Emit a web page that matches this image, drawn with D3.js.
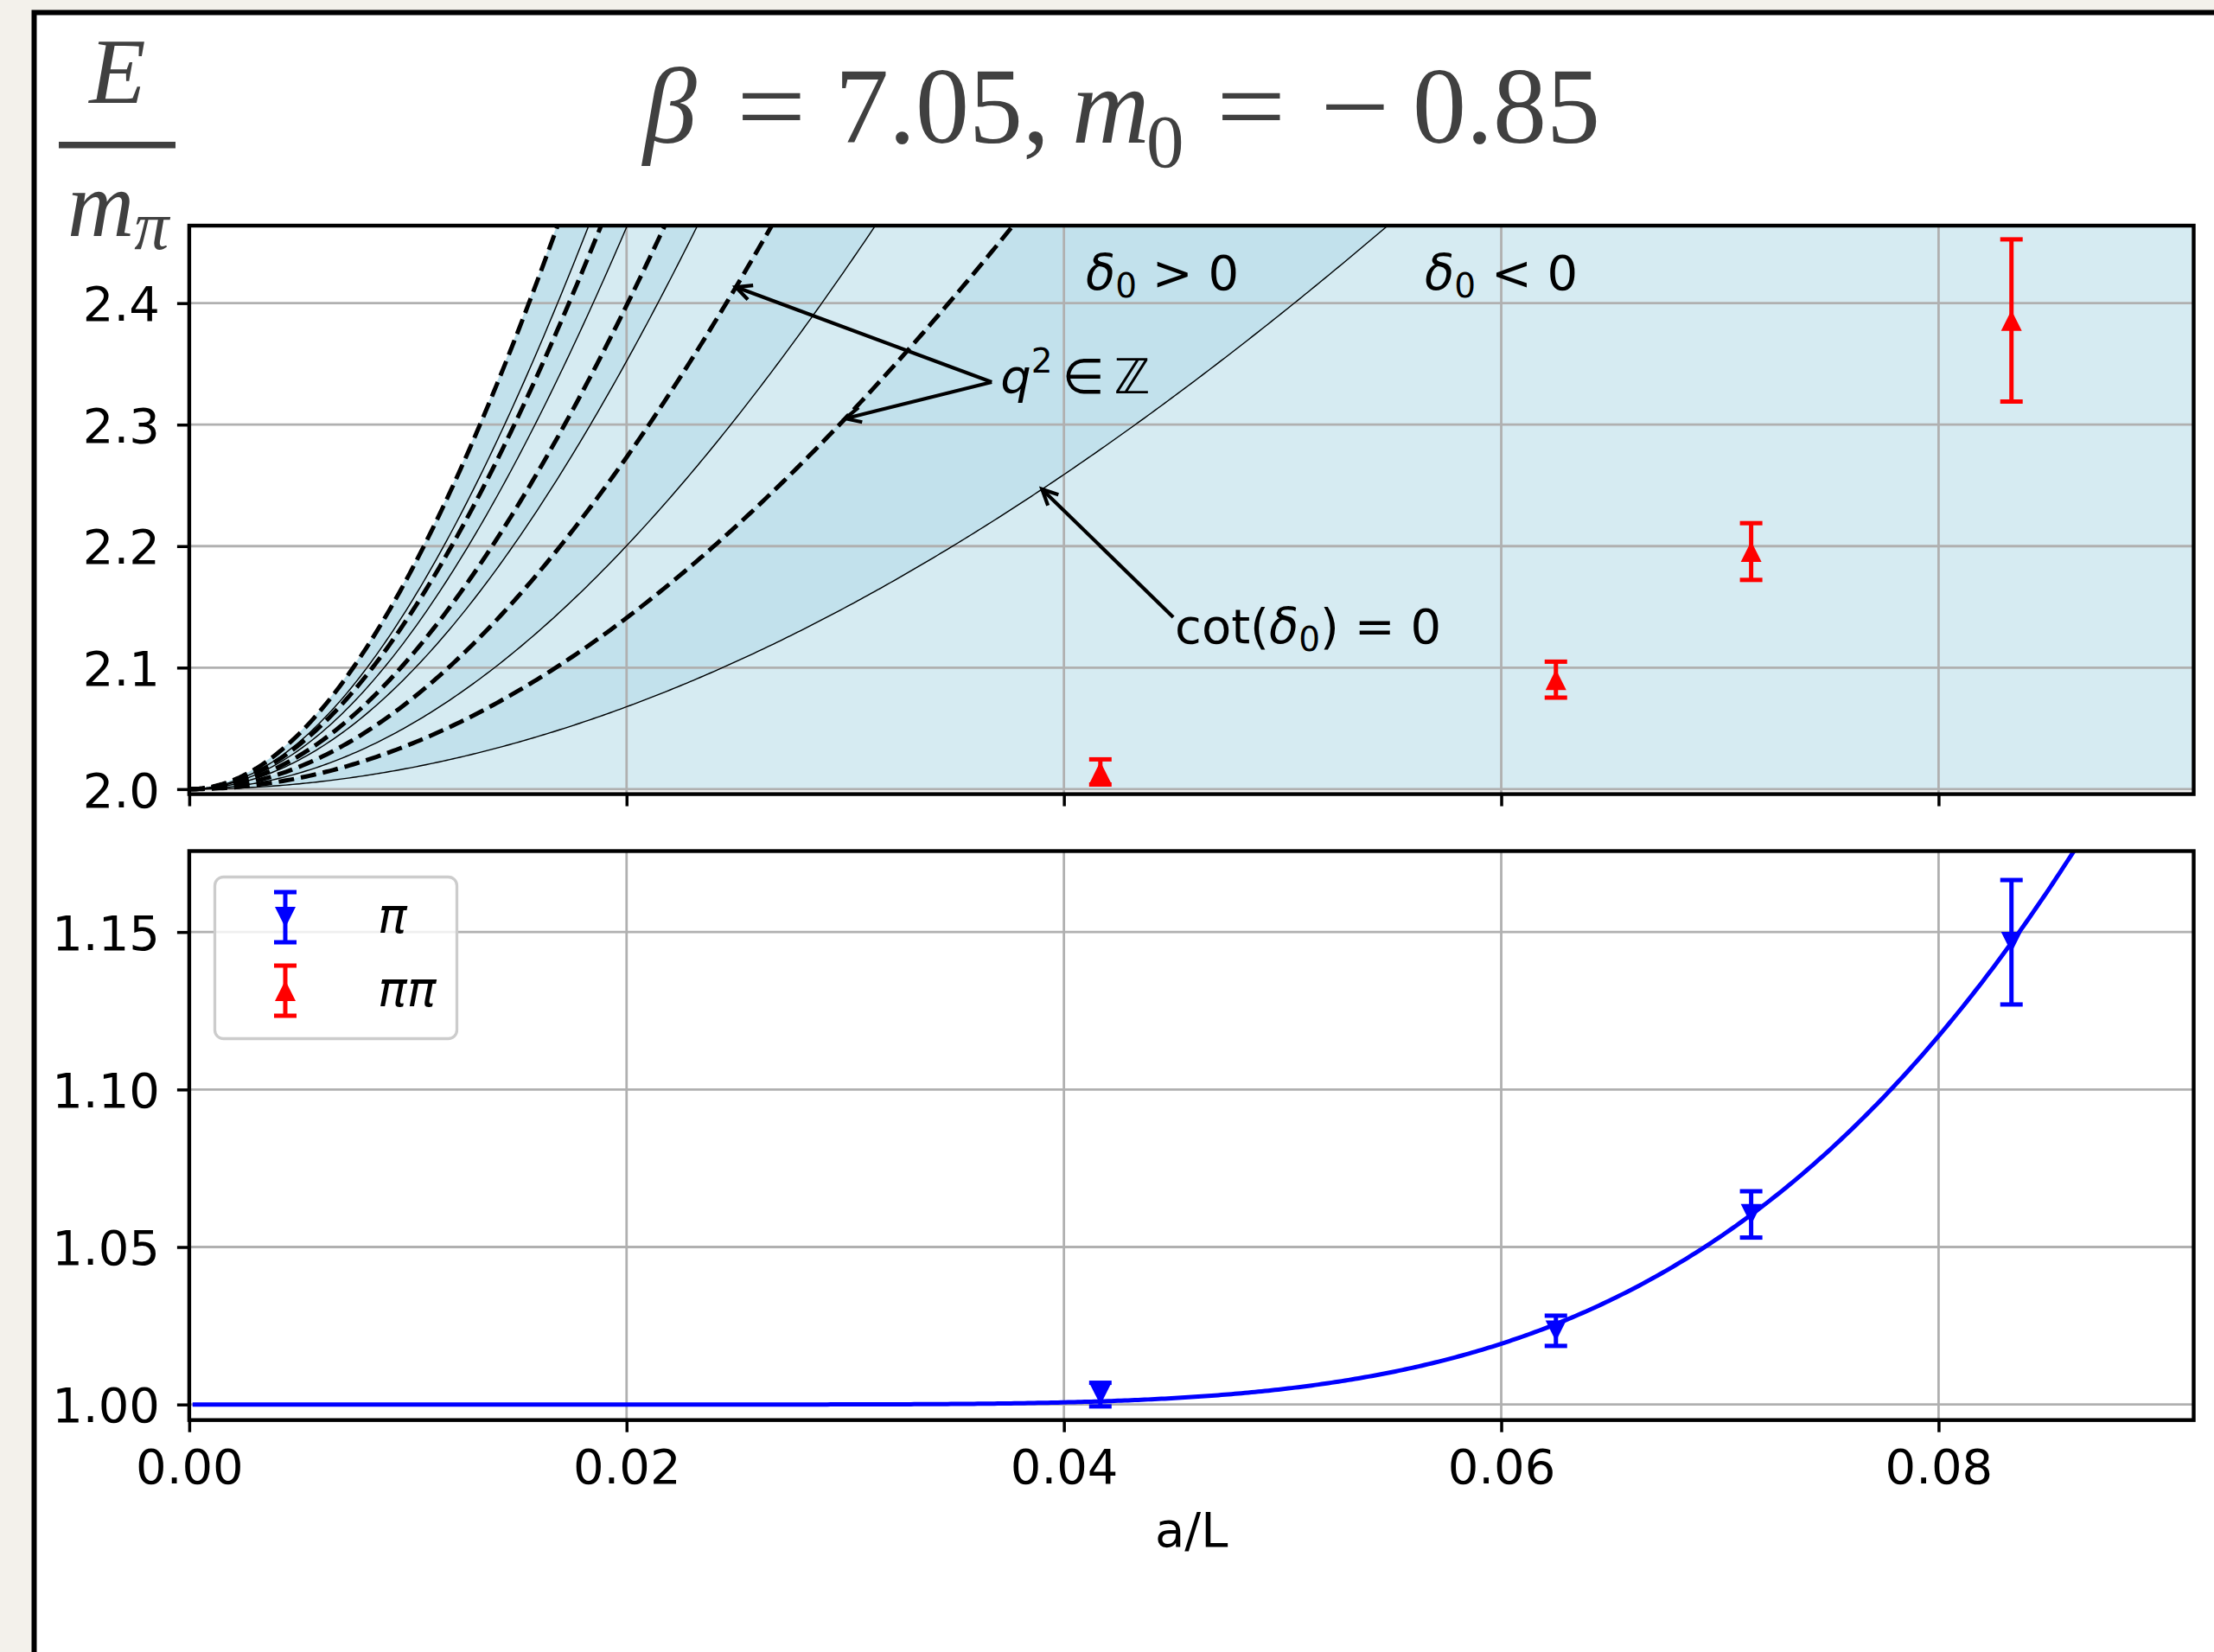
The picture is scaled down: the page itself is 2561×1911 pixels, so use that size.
<!DOCTYPE html>
<html>
<head>
<meta charset="utf-8">
<script src="https://cdn.jsdelivr.net/npm/d3@7"></script>
<style>
  body { margin: 0; background: #f3f1eb; }
  svg { display: block; }
  .tick text { font-family: "DejaVu Sans", sans-serif; font-size: 56px; fill: #000; }
  .tick line { stroke: #000; stroke-width: 3.5; }
</style>
</head>
<body>
<svg id="chart" width="2561" height="1911"></svg>
<script>
// ---- data ----
var aOverL   = [1/24, 1/16, 1/14, 1/12];
var pionE    = [1.00315, 1.0234, 1.06035, 1.14675];
var pionErr  = [0.00375, 0.0048, 0.00735, 0.01975];
var pipiE    = [2.01415, 2.0901, 2.19555, 2.38575];
var pipiErr  = [0.01035, 0.0148, 0.02335, 0.06675];
var q2Int     = [1, 2, 3, 4, 5];                          // free levels (dashed)
var q2CotZero = [0.4724, 1.4415, 2.6270, 3.5366, 4.2517]; // cot(delta0)=0 levels (thin)
var amPi = 0.329;   // a*m_pi
var fitA = 59.6;    // finite volume fit amplitude
var xTicks    = [0, 0.02, 0.04, 0.06, 0.08];
var yTicksTop = [2.0, 2.1, 2.2, 2.3, 2.4];
var yTicksBot = [1.00, 1.05, 1.10, 1.15];
var legendItems = [
  { label: "\u03c0",       color: "#0000ff", dir: -1 },
  { label: "\u03c0\u03c0", color: "#ff0000", dir: 1 }
];

var svg = d3.select("#chart");

// white card with black frame
svg.append("rect")
  .attr("x", 39.5).attr("y", 14.5)
  .attr("width", 2700).attr("height", 2100)
  .attr("fill", "#fff").attr("stroke", "#000").attr("stroke-width", 6);

var x    = d3.scaleLinear().domain([0, 11/120]).range([218.9, 2537.5]);
var yTop = d3.scaleLinear().domain([1.9959, 2.4638]).range([918.6, 261]);
var yBot = d3.scaleLinear().domain([0.99506, 1.1757]).range([1642.7, 984.5]);

function twoPion(q2, t) {
  var k = 2 * Math.PI * t * Math.sqrt(q2) / amPi;
  return 2 * Math.sqrt(1 + k * k);
}
function pionFit(t) {
  var z = amPi / t;
  return 1 + fitA * Math.exp(-z) / Math.pow(z, 1.5);
}

var xs = d3.range(0, 601).map(function(i) { return i / 600 * x.domain()[1]; });

var defs = svg.append("defs");
defs.append("clipPath").attr("id", "clipTop").append("rect")
  .attr("x", x.range()[0]).attr("y", yTop.range()[1])
  .attr("width", x.range()[1] - x.range()[0]).attr("height", yTop.range()[0] - yTop.range()[1]);
defs.append("clipPath").attr("id", "clipBot").append("rect")
  .attr("x", x.range()[0]).attr("y", yBot.range()[1])
  .attr("width", x.range()[1] - x.range()[0]).attr("height", yBot.range()[0] - yBot.range()[1]);

/* ------ TOP PANEL ------ */
var topPanel = svg.append("g");
var topPlot = topPanel.append("g").attr("clip-path", "url(#clipTop)");

// base fill below the highest free level
var baseArea = d3.area()
  .x(function(t) { return x(t); })
  .y0(function() { return yTop(2); })
  .y1(function(t) { return yTop(twoPion(q2Int[q2Int.length - 1], t)); });
topPlot.append("path").attr("d", baseArea(xs))
  .attr("fill", "#add8e6").attr("fill-opacity", 0.5)
  .attr("stroke", "#add8e6").attr("stroke-opacity", 0.5).attr("stroke-width", 2);

// darker bands between each free level and the zero just below it
q2Int.forEach(function(n, i) {
  var band = d3.area()
    .x(function(t) { return x(t); })
    .y0(function(t) { return yTop(twoPion(q2CotZero[i], t)); })
    .y1(function(t) { return yTop(twoPion(n, t)); });
  topPlot.append("path").attr("d", band(xs))
    .attr("fill", "#add8e6").attr("fill-opacity", 0.5)
    .attr("stroke", "#add8e6").attr("stroke-opacity", 0.5).attr("stroke-width", 2);
});

function drawGrid(g, yScale, yTicks) {
  g.selectAll("line.gx").data(xTicks).enter().append("line")
    .attr("x1", function(d) { return x(d); }).attr("x2", function(d) { return x(d); })
    .attr("y1", yScale.range()[0]).attr("y2", yScale.range()[1])
    .attr("stroke", "#b0b0b0").attr("stroke-width", 2.8);
  g.selectAll("line.gy").data(yTicks).enter().append("line")
    .attr("x1", x.range()[0]).attr("x2", x.range()[1])
    .attr("y1", function(d) { return yScale(d); }).attr("y2", function(d) { return yScale(d); })
    .attr("stroke", "#b0b0b0").attr("stroke-width", 2.8);
}
drawGrid(topPlot.append("g"), yTop, yTicksTop);

q2CotZero.forEach(function(q2) {
  topPlot.append("path")
    .attr("d", d3.line().x(function(t) { return x(t); }).y(function(t) { return yTop(twoPion(q2, t)); })(xs))
    .attr("fill", "none").attr("stroke", "#000").attr("stroke-width", 1.4);
});
q2Int.forEach(function(n) {
  topPlot.append("path")
    .attr("d", d3.line().x(function(t) { return x(t); }).y(function(t) { return yTop(twoPion(n, t)); })(xs))
    .attr("fill", "none").attr("stroke", "#000").attr("stroke-width", 5)
    .attr("stroke-dasharray", "18,8");
});

function triangle(cx, cy, dir) {
  // dir = 1 points up, -1 points down
  var h = 12 * dir;
  return "M" + cx + "," + (cy - h) + "L" + (cx - 12) + "," + (cy + h) + "L" + (cx + 12) + "," + (cy + h) + "Z";
}
function errorbars(g, xv, yv, ev, yScale, color, dir) {
  var pts = g.selectAll("g.pt").data(xv.map(function(d, i) { return { x: d, y: yv[i], e: ev[i] }; }))
    .enter().append("g");
  pts.append("line")
    .attr("x1", function(d) { return x(d.x); }).attr("x2", function(d) { return x(d.x); })
    .attr("y1", function(d) { return yScale(d.y - d.e); }).attr("y2", function(d) { return yScale(d.y + d.e); })
    .attr("stroke", color).attr("stroke-width", 5);
  [-1, 1].forEach(function(s) {
    pts.append("line")
      .attr("x1", function(d) { return x(d.x) - 13; }).attr("x2", function(d) { return x(d.x) + 13; })
      .attr("y1", function(d) { return yScale(d.y + s * d.e); }).attr("y2", function(d) { return yScale(d.y + s * d.e); })
      .attr("stroke", color).attr("stroke-width", 5);
  });
  pts.append("path")
    .attr("d", function(d) { return triangle(x(d.x), yScale(d.y), dir); })
    .attr("fill", color);
}
errorbars(topPanel.append("g"), aOverL, pipiE, pipiErr, yTop, "#ff0000", 1);

// annotations
function arrow(g, x1, y1, x2, y2) {
  var ang = Math.atan2(y2 - y1, x2 - x1), L = 20, w = 0.45;
  g.append("line").attr("x1", x1).attr("y1", y1).attr("x2", x2).attr("y2", y2)
    .attr("stroke", "#000").attr("stroke-width", 4.2);
  g.append("path")
    .attr("d", "M" + (x2 - L * Math.cos(ang - w)) + "," + (y2 - L * Math.sin(ang - w)) +
               "L" + x2 + "," + y2 +
               "L" + (x2 - L * Math.cos(ang + w)) + "," + (y2 - L * Math.sin(ang + w)))
    .attr("fill", "none").attr("stroke", "#000").attr("stroke-width", 4.2);
}
var ann = topPanel.append("g").attr("font-family", "DejaVu Sans, sans-serif").attr("font-size", 56);
var qText = { x: 0.0367, y: 2.335 };
arrow(ann, x(qText.x), yTop(qText.y), x(0.025), yTop(twoPion(2, 0.025)));
arrow(ann, x(qText.x), yTop(qText.y), x(0.030), yTop(twoPion(1, 0.030)));
var qt = ann.append("text").attr("x", x(qText.x) + 10).attr("y", yTop(qText.y) + 13);
qt.append("tspan").attr("font-style", "italic").text("q");
qt.append("tspan").attr("font-size", 39).attr("dy", -24).text("2");
qt.append("tspan").attr("dy", 24).text("\u2009\u2208\u2009\u2124");

var cText = { x: 0.0450, y: 2.1415 };
arrow(ann, x(cText.x), yTop(cText.y), x(0.039), yTop(twoPion(q2CotZero[0], 0.039)));
var ct = ann.append("text").attr("x", x(cText.x) + 2).attr("y", yTop(cText.y) + 30);
ct.append("tspan").text("cot(");
ct.append("tspan").attr("font-style", "italic").text("\u03b4");
ct.append("tspan").attr("font-size", 39).attr("dy", 9).text("0");
ct.append("tspan").attr("dy", -9).text(") = 0");

var regionLabels = [{ x: 0.0410, sign: ">" }, { x: 0.0565, sign: "<" }];
regionLabels.forEach(function(r) {
  var t = ann.append("text").attr("x", x(r.x)).attr("y", yTop(2.411));
  t.append("tspan").attr("font-style", "italic").text("\u03b4");
  t.append("tspan").attr("font-size", 39).attr("dy", 9).text("0");
  t.append("tspan").attr("dy", -9).text(" " + r.sign + " 0");
});

// axes
topPanel.append("g").attr("transform", "translate(" + x.range()[0] + ",0)")
  .call(d3.axisLeft(yTop).tickValues(yTicksTop).tickSize(14).tickPadding(20).tickFormat(d3.format(".1f")))
  .call(function(g) { g.select(".domain").remove(); g.selectAll("text").attr("dy", "0.36em"); });
topPanel.append("g").attr("transform", "translate(0," + yTop.range()[0] + ")")
  .call(d3.axisBottom(x).tickValues(xTicks).tickSize(14).tickFormat(""))
  .call(function(g) { g.select(".domain").remove(); });
topPanel.append("rect")
  .attr("x", x.range()[0]).attr("y", yTop.range()[1])
  .attr("width", x.range()[1] - x.range()[0]).attr("height", yTop.range()[0] - yTop.range()[1])
  .attr("fill", "none").attr("stroke", "#000").attr("stroke-width", 4.4);

/* ------ BOTTOM PANEL ------ */
var botPanel = svg.append("g");
var botPlot = botPanel.append("g").attr("clip-path", "url(#clipBot)");
drawGrid(botPlot.append("g"), yBot, yTicksBot);
botPlot.append("path")
  .attr("d", d3.line().x(function(t) { return x(t); }).y(function(t) { return yBot(pionFit(t)); })(xs.slice(1)))
  .attr("fill", "none").attr("stroke", "#0000ff").attr("stroke-width", 5);
errorbars(botPanel.append("g"), aOverL, pionE, pionErr, yBot, "#0000ff", -1);

botPanel.append("g").attr("transform", "translate(" + x.range()[0] + ",0)")
  .call(d3.axisLeft(yBot).tickValues(yTicksBot).tickSize(14).tickPadding(20).tickFormat(d3.format(".2f")))
  .call(function(g) { g.select(".domain").remove(); g.selectAll("text").attr("dy", "0.36em"); });
botPanel.append("g").attr("transform", "translate(0," + yBot.range()[0] + ")")
  .call(d3.axisBottom(x).tickValues(xTicks).tickSize(14).tickPadding(20).tickFormat(d3.format(".2f")))
  .call(function(g) { g.select(".domain").remove(); });
botPanel.append("rect")
  .attr("x", x.range()[0]).attr("y", yBot.range()[1])
  .attr("width", x.range()[1] - x.range()[0]).attr("height", yBot.range()[0] - yBot.range()[1])
  .attr("fill", "none").attr("stroke", "#000").attr("stroke-width", 4.4);

// legend
var leg = botPanel.append("g");
leg.append("rect").attr("x", 248.5).attr("y", 1014.5).attr("width", 280).attr("height", 187).attr("rx", 10)
  .attr("fill", "#fff").attr("fill-opacity", 0.8)
  .attr("stroke", "#cccccc").attr("stroke-width", 3.3);
legendItems.forEach(function(d, i) {
  var cy = 1061 + i * 85, cx = 330;
  leg.append("line").attr("x1", cx).attr("x2", cx).attr("y1", cy - 29).attr("y2", cy + 29)
    .attr("stroke", d.color).attr("stroke-width", 5);
  [-29, 29].forEach(function(o) {
    leg.append("line").attr("x1", cx - 13).attr("x2", cx + 13).attr("y1", cy + o).attr("y2", cy + o)
      .attr("stroke", d.color).attr("stroke-width", 5);
  });
  leg.append("path").attr("d", triangle(cx, cy, d.dir)).attr("fill", d.color);
  leg.append("text").attr("x", 437).attr("y", cy + 18)
    .attr("font-family", "DejaVu Sans, sans-serif").attr("font-size", 56).attr("font-style", "italic")
    .text(d.label);
});

svg.append("text").attr("x", (x.range()[0] + x.range()[1]) / 2).attr("y", 1789)
  .attr("text-anchor", "middle").attr("font-family", "DejaVu Sans, sans-serif").attr("font-size", 56)
  .text("a/L");

/* ------ TITLE + Y LABEL ------ */
var serif = "Liberation Serif, Times New Roman, serif";
var titleParts = [
  { t: "\u03b2", x: 744, italic: true },
  { t: "=", x: 852 },
  { t: "7.05,", x: 966 },
  { t: "m", x: 1240, italic: true },
  { t: "0", x: 1326, sub: true },
  { t: "=", x: 1407 },
  { t: "\u2212", x: 1527 },
  { t: "0.85", x: 1634 }
];
var title = svg.append("g").attr("font-family", serif).attr("fill", "#404040");
titleParts.forEach(function(p) {
  title.append("text")
    .attr("x", p.x).attr("y", p.sub ? 193 : 165)
    .attr("font-size", p.sub ? 87 : 124)
    .attr("font-style", p.italic ? "italic" : "normal")
    .attr("transform", p.t === "=" || p.t === "\u2212" ? "translate(" + p.x + ",0) scale(1.15,1) translate(" + (-p.x) + ",0)" : null)
    .text(p.t);
});

var ylab = svg.append("g").attr("font-family", serif).attr("fill", "#404040");
ylab.append("text").attr("x", 136).attr("y", 119).attr("text-anchor", "middle")
  .attr("font-size", 107).attr("font-style", "italic").text("E");
ylab.append("rect").attr("x", 68).attr("y", 164).attr("width", 135).attr("height", 7.5);
var ym = ylab.append("text").attr("x", 78).attr("y", 273).attr("font-size", 107).attr("font-style", "italic");
ym.append("tspan").text("m");
ym.append("tspan").attr("font-size", 80).attr("dy", 15).text("\u03c0");
</script>
</body>
</html>
